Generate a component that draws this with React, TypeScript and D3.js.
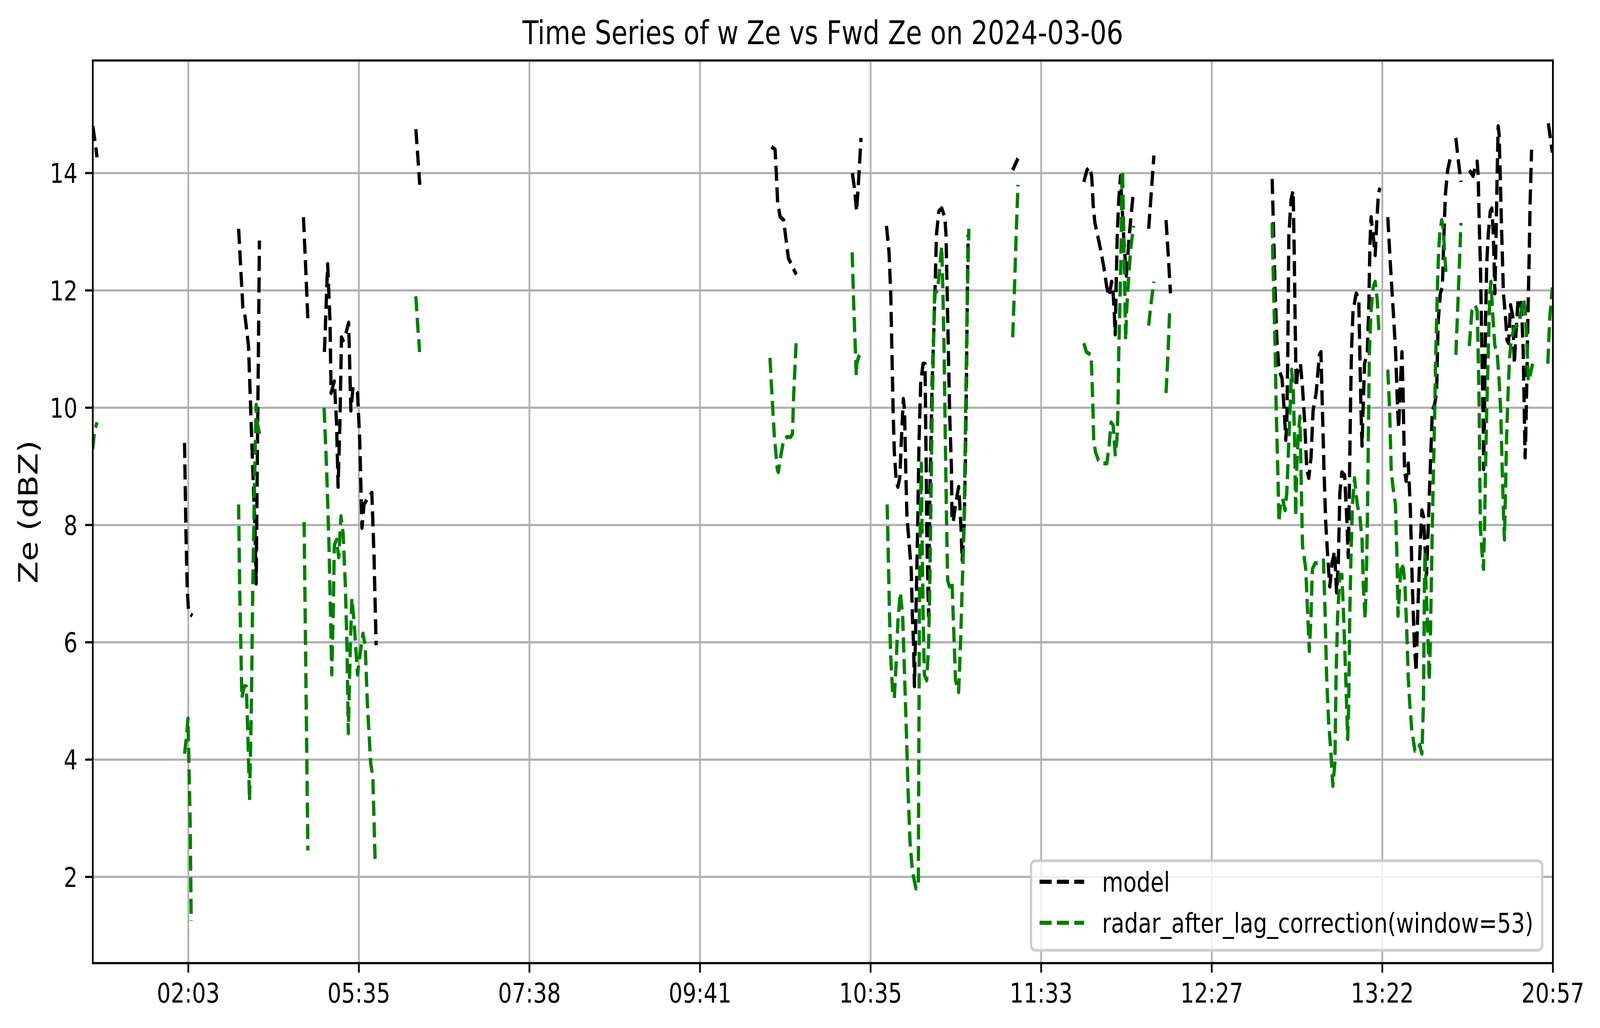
import * as d3 from "d3"

// sample index (x) and Ze in dBZ; null marks a gap in the record
type Pt = [number, number] | null

const TITLE = "Time Series of w Ze vs Fwd Ze on 2024-03-06"
const Y_LABEL = "Ze (dBZ)"
const MODEL_LABEL = "model"
const RADAR_LABEL = "radar_after_lag_correction(window=53)"

const tickIndex = [56, 156, 256, 356, 456, 556, 656, 756, 856]
const tickLabels = ["02:03", "05:35", "07:38", "09:41", "10:35", "11:33", "12:27", "13:22", "20:57"]
const yTicks = [2, 4, 6, 8, 10, 12, 14]

const model: Pt[] = [
  [0, 14.8], [1, 14.6], [2.5, 14.27], null,
  [53.8, 9.4], [54.6, 7.9], [55.4, 6.9], [56, 6.6], [56.5, 6.5], [58.4, 6.45], null,
  [85.5, 13.05], [88, 11.7], [89.3, 11.55], [91.3, 11.05], [92.6, 9.95], [93.8, 8.95], [95.1, 7.95], [95.8, 7.0],
  [96.4, 8.95], [97.1, 10.95], [97.7, 12.85], null,
  [123.5, 13.25], [124.8, 12.4], [126.1, 11.5], null,
  [135.8, 10.95], [137.7, 12.45], [139.1, 11.45], [139.7, 10.25], [141.6, 10.45], [142.9, 9.75], [143.8, 8.65],
  [144.9, 9.75], [145.8, 11.2], [146.8, 11.15], [148.7, 11.3], [150, 11.45], [151.3, 9.95], [152.6, 10.35],
  [155.2, 10.25], [156.5, 9.45], [157.8, 7.95], [159, 8.35], [161, 8.45], [163.6, 8.55], [164.9, 7.45], [166.1, 5.95], null,
  [189.4, 14.75], [190.5, 14.3], [191.7, 13.8], null,
  [397.9, 14.45], [400, 14.4], [400.8, 13.95], [401.5, 13.5], [403, 13.25], [405, 13.2], [406.5, 12.85],
  [407.8, 12.55], [409.5, 12.45], [412.4, 12.27], null,
  [445.3, 14.0], [446.5, 13.75], [447.8, 13.35], [449, 13.9], [450.4, 14.6], null,
  [465.3, 13.1], [466.8, 12.65], [467.8, 11.95], [468.5, 10.95], [469.2, 9.95], [469.9, 9.25], [471, 8.75],
  [472, 8.65], [473.1, 8.8], [474.2, 9.55], [475.2, 10.15], [475.9, 9.95], [476.6, 8.95], [477.3, 8.15],
  [478.7, 7.65], [479.8, 7.25], [480.5, 6.45], [481.2, 5.95], [481.7, 5.25], [482.2, 5.95], [482.9, 6.95],
  [483.6, 7.95], [484.4, 9.45], [485.4, 10.45], [486.8, 10.75], [487.9, 10.75], [488.2, 9.95], [488.6, 8.95],
  [488.9, 7.95], [489.6, 6.95], [490, 6.45], [490.3, 7.45], [490.7, 8.45], [491.4, 9.45], [492.1, 10.45],
  [493.2, 11.45], [493.9, 12.15], [494.6, 12.95], [496, 13.35], [497.7, 13.4], [499.5, 13.25], [500.2, 12.95],
  [500.9, 11.95], [501.6, 10.95], [502.3, 9.95], [503.4, 8.95], [503.7, 8.15], [504.4, 8.05], [505.8, 8.35],
  [507.6, 8.65], [508.3, 8.35], [509, 7.95], [509.7, 7.4], [510.8, 7.95], [511.5, 8.95], [512.2, 10.45],
  [512.7, 11.95], [513.2, 12.95], null,
  [539.3, 14.05], [540.8, 14.15], [542.4, 14.25], null,
  [581, 13.85], [582.8, 14.05], [584.4, 14.1], [585.6, 13.95], [586.5, 13.45], [587.5, 13.15], [589, 12.95],
  [590.8, 12.7], [592.7, 12.4], [594.5, 12.05], [595.8, 11.9], [597.3, 12.15], [598.2, 11.95], [598.8, 11.65],
  [599.4, 11.25], [600, 12.15], [600.6, 12.95], [601.5, 13.55], [602.5, 13.95], [603.4, 13.45], [604.3, 12.95],
  [605.2, 12.55], [605.9, 12.25], [606.5, 12.45], [607.4, 12.85], [608.6, 13.25], [609.8, 13.6], null,
  [619, 13.05], [620.5, 13.65], [622.1, 14.3], null,
  [629.2, 13.2], [630.5, 12.6], [631.8, 11.95], null,
  [691.4, 13.9], [692.3, 12.95], [693.2, 11.95], [694.2, 11.15], [695.4, 10.65], [697.2, 10.5], [698.5, 9.95],
  [699.4, 9.45], [700, 9.75], [700.6, 10.95], [701.2, 12.95], [702.5, 13.55], [703.7, 13.7], [704.3, 12.75],
  [704.9, 11.45], [705.5, 10.35], [706.5, 10.65], [708, 10.75], [709.2, 10.35], [710.5, 9.75], [711.7, 8.95],
  [712.9, 8.8], [714.2, 9.15], [715.4, 9.95], [717.2, 10.25], [719.1, 10.9], [720, 10.95], [720.9, 9.95],
  [721.8, 8.95], [722.8, 8.05], [724, 7.45], [725.2, 6.95], [726.5, 7.35], [728, 7.55], [729.2, 6.85],
  [730.2, 7.35], [731.1, 8.55], [732.3, 8.9], [733.9, 8.85], [735.1, 8.15], [736, 7.45], [736.6, 8.45],
  [737.3, 9.95], [737.9, 10.95], [738.8, 11.65], [740.7, 11.95], [742.2, 11.85], [742.8, 10.95], [743.5, 9.95],
  [744.1, 9.35], [744.7, 9.95], [745.6, 10.75], [747.2, 10.95], [748.1, 11.75], [748.7, 12.75], [749.4, 13.25],
  [750.6, 12.95], [751.8, 12.6], [752.7, 13.15], [753.7, 13.65], [754.6, 13.75], null,
  [759.2, 13.25], [760.7, 12.45], [762.6, 11.55], [763.8, 10.95], [765, 9.95], [765.6, 9.65], [766.5, 10.35],
  [767.5, 10.95], [768.1, 10.35], [769, 8.95], [769.9, 8.75], [771.2, 9.05], [772.4, 8.3], [773.6, 6.95],
  [774.8, 5.95], [775.8, 5.5], [776.7, 6.45], [777.9, 7.45], [779.2, 8.25], [780.1, 8.15], [781, 7.65],
  [781.9, 7.15], [782.9, 7.95], [784.1, 8.95], [785.3, 9.95], [786.6, 10.05], [787.8, 10.25], [788.7, 11.45],
  [790, 11.95], [791.2, 12.05], [792.1, 12.95], [793, 13.65], [794.3, 14.05], [795.8, 14.25], [796.4, 14.27], null,
  [799.1, 14.6], [800.6, 14.2], [802.1, 13.85], null,
  [807, 14.05], [809.2, 13.95], [810.4, 14.1], [811.6, 14.2], [812.2, 13.95], [812.8, 13.15], [813.5, 12.45],
  [814.1, 11.45], [814.7, 10.45], [815.3, 9.45], [815.4, 8.95], [815.9, 9.95], [816.5, 11.45], [817.2, 12.45],
  [818.1, 12.95], [819.3, 13.35], [820.2, 13.4], [821.1, 12.95], [821.8, 12.15], [822, 11.95], [822.7, 12.95],
  [823.3, 13.95], [823.9, 14.8], [824.5, 14.65], [825.1, 13.95], [826, 12.95], [827, 11.95], [828.2, 11.55],
  [829.1, 11.15], [830, 11.1], [831.2, 11.75], [832.5, 11.55], [833.4, 10.75], [834.3, 11.25], [835.6, 11.85],
  [836.8, 11.85], [837.7, 11.65], [838.6, 10.95], [839.2, 9.95], [839.7, 9.15], [840.1, 9.55], [840.7, 10.45],
  [841.3, 11.45], [842, 12.45], [842.6, 13.45], [843.5, 14.4], null,
  [853.3, 14.85], [854.5, 14.6], [855.7, 14.35],
]

const radar: Pt[] = [
  [0, 9.3], [1, 9.6], [2.5, 9.75], null,
  [53.8, 4.1], [55, 4.4], [55.8, 4.7], [56.4, 3.9], [57.1, 2.9], [57.7, 1.25], null,
  [85.5, 8.35], [86.1, 6.95], [86.8, 5.95], [87.4, 5.05], [88.7, 5.25], [90, 5.25], [90.9, 4.45], [91.9, 3.3],
  [93, 4.95], [93.8, 6.95], [94.5, 8.15], [95.1, 9.15], [95.8, 10.05], [96.4, 9.75], [97.7, 9.55], null,
  [123.9, 8.05], [125, 5.25], [126.1, 2.45], null,
  [135.6, 10], [137.1, 8.95], [138.4, 7.75], [139.4, 6.45], [140.1, 5.45], [141, 6.55], [141.6, 7.65],
  [142.9, 7.75], [144.2, 7.45], [145.5, 8.15], [146.8, 7.85], [148.1, 6.95], [149, 5.95], [149.8, 4.45],
  [151, 5.95], [151.9, 6.75], [153.2, 6.35], [155.2, 5.45], [156.5, 5.75], [158.4, 6.15], [159.7, 5.95],
  [161, 4.95], [162.9, 3.95], [164.2, 3.7], [165.5, 2.3], null,
  [189.4, 11.9], [190.5, 11.4], [191.6, 10.95], null,
  [397, 10.85], [398.3, 10.15], [399.5, 9.55], [401.3, 8.95], [401.9, 8.9], [403.2, 9.15], [405, 9.45],
  [406.8, 9.5], [409, 9.5], [410.2, 9.55], [410.8, 10.15], [412.4, 11.15], null,
  [445.2, 12.65], [446.1, 11.75], [447, 11.05], [447.6, 10.55], [447.9, 10.75], [448.8, 10.85], [450.1, 10.95], null,
  [465.7, 8.35], [466.4, 7.45], [467.1, 6.45], [467.8, 5.75], [468.9, 5.15], [469.9, 5.05], [471, 5.65],
  [472, 6.35], [473.4, 6.85], [474.8, 6.45], [475.9, 5.45], [477, 4.45], [478, 3.45], [479.1, 2.6],
  [480.5, 2.1], [482.6, 1.8], [484, 1.9], [484.1, 2.9], [484.4, 4.95], [484.7, 6.95], [485.3, 8.45],
  [485.8, 9.05], [486.1, 7.95], [486.8, 6.45], [487.5, 5.45], [488.9, 5.35], [490, 5.95], [490.7, 6.95],
  [491.4, 8.45], [492.1, 9.95], [492.8, 10.95], [493.5, 11.95], [495.3, 12], [496.7, 12.45], [497.7, 12.75],
  [498.4, 11.95], [499.1, 10.95], [499.8, 9.45], [500.6, 7.95], [501.2, 7.05], [502.3, 6.95], [503.7, 7.05],
  [504.8, 6.15], [505.8, 5.35], [507.6, 5.15], [508.7, 5.95], [509.7, 6.95], [510.8, 7.95], [511.5, 9.45],
  [512.2, 10.95], [512.9, 12.15], [513.6, 13.05], null,
  [539.3, 11.2], [540.3, 12.0], [541.4, 13.0], [542.4, 13.8], null,
  [581, 11.1], [582.5, 10.95], [585.3, 10.9], [586.2, 10.15], [586.8, 9.45], [587.8, 9.25], [589.6, 9.1],
  [592.1, 9.05], [594.5, 9.05], [595.8, 9.35], [597, 9.75], [598.2, 9.7], [599.4, 9.2], [600.4, 9.45],
  [601, 9.95], [601.5, 10.95], [602.3, 11.95], [603, 12.95], [603.4, 13.95], [603.7, 14.05], [604.3, 13.15],
  [604.9, 12.15], [605.5, 11.15], [606.1, 11.65], [607.1, 12.15], [608.6, 12.75], [610.2, 13.1], null,
  [619, 11.4], [620.5, 11.8], [622.1, 12.15], null,
  [629.2, 10.25], [630.4, 10.95], [631.3, 11.65], [632.3, 11.65], null,
  [691.4, 13.15], [691.9, 12.45], [692.5, 11.75], [693.2, 10.95], [693.8, 9.95], [694.7, 8.95], [695.4, 8.05],
  [696.3, 8.35], [697.5, 8.45], [699, 8.25], [700, 8.55], [701.2, 9.45], [702.8, 10.65], [703.7, 10.35],
  [704.6, 9.45], [705.2, 8.15], [705.8, 8.95], [706.7, 9.55], [707.7, 9.85], [708.3, 8.95], [709.2, 7.65],
  [711.1, 7.25], [712.3, 6.45], [713.2, 5.85], [714.2, 6.45], [715, 7.25], [716.6, 7.35], [719.1, 7.35],
  [721.5, 7.4], [722.5, 6.45], [723.3, 5.45], [724.5, 4.65], [725.8, 4.15], [727, 3.55], [728.2, 3.95],
  [728.9, 5.45], [729.8, 6.45], [731.1, 7.15], [732.3, 7.15], [733.3, 6.45], [734.5, 5.45], [735.7, 4.35],
  [736.3, 4.95], [736.9, 6.45], [737.6, 7.45], [738.5, 8.35], [739.7, 8.8], [741.3, 8.35], [742.8, 8.15],
  [744.1, 7.75], [744.9, 6.95], [745.9, 6.4], [746.5, 6.95], [747.2, 7.95], [747.8, 9.45], [748.4, 10.95],
  [749.4, 11.65], [750.6, 12.05], [751.8, 12.15], [753, 11.85], [754, 11.3], [754.6, 11.25], null,
  [759.2, 10.65], [760.3, 9.95], [761.2, 8.95], [762.2, 8.65], [763.7, 8.35], [764.6, 7.45], [765.2, 6.45],
  [766.2, 6.95], [767.1, 7.35], [768.4, 7.25], [769.3, 6.95], [770.2, 6.3], [771.2, 5.4], [772.2, 4.9],
  [773.3, 4.5], [775.1, 4.15], [776.7, 4.15], [777.9, 4.25], [779.2, 4.1], [780.1, 4.95], [780.4, 5.95],
  [780.7, 6.95], [781, 7.55], [781.6, 6.95], [782.3, 6.45], [782.9, 5.95], [783.5, 5.35], [784.1, 5.95],
  [784.7, 6.95], [785.3, 7.95], [786, 8.95], [786.6, 9.75], [787.2, 10.75], [787.8, 11.45], [788.4, 12.15],
  [789, 12.65], [789.6, 12.95], [790.8, 13.2], [791.7, 13.05], [792.3, 12.75], [793.3, 12.3], [794.3, 12.25],
  [795.2, 12.25], null,
  [799.1, 10.9], [800.6, 12.0], [802.1, 13.15], null,
  [807, 11.05], [808.5, 11.65], [810.4, 11.75], [811.6, 11.65], [812.2, 10.95], [812.8, 9.95], [813.1, 8.95],
  [813.5, 7.95], [814.4, 7.55], [815.3, 7.25], [815.9, 7.95], [816.5, 8.95], [817.2, 9.95], [818.1, 10.95],
  [819, 11.95], [819.7, 12.15], [820.8, 11.55], [822, 11.05], [823.3, 10.95], [824.5, 10.45], [825.4, 9.95],
  [826.3, 8.95], [827.3, 7.95], [827.6, 7.75], [828.2, 8.55], [828.8, 9.45], [829.7, 10.25], [830.6, 10.85],
  [831.6, 11.15], [833.1, 11.35], [834.9, 11.4], [836.2, 11.45], [837.4, 11.65], [838.9, 11.85], [839.8, 11.65],
  [840.7, 11.15], [841.6, 10.45], [842.6, 10.55], [844.1, 10.75], null,
  [853, 10.75], [854.2, 11.55], [855.7, 12.05],
]

// drawing units follow the 5096x2631 reference; ~500 dpi so 1pt ≈ 6.94 units
const PT = 500 / 72
const W = 5096
const H = 2631
const plot = { left: 295.5, right: 4946, top: 154.8, bottom: 2465 }

export default function App() {
  const x = d3.scaleLinear().domain([0, 856]).range([plot.left, plot.right])
  const y = d3.scaleLinear().domain([0.53, 15.92]).range([plot.bottom, plot.top])

  const line = d3
    .line<Pt>()
    .defined((d) => d !== null)
    .x((d) => x((d as [number, number])[0]))
    .y((d) => y((d as [number, number])[1]))

  const lw = 1.5 * PT
  const dash = `${3.7 * lw} ${1.6 * lw}`
  const font = "DejaVu Sans, sans-serif"
  const tickFs = 10 * PT
  const tickLen = 3.5 * PT
  const tickPad = 3.5 * PT

  // legend box, lower right of the axes
  const leg = { x: 3284, y: 2203, w: 1628, h: 229 }
  const legendItems = [
    { label: MODEL_LABEL, color: "#000000" },
    { label: RADAR_LABEL, color: "#008000" },
  ]

  return (
    <svg
      viewBox={`0 0 ${W} ${H}`}
      preserveAspectRatio="none"
      style={{ position: "fixed", left: 0, top: 0, width: "100vw", height: "100vh", display: "block", background: "#fff" }}
      fontFamily={font}
    >
      <rect x={0} y={0} width={W} height={H} fill="#fff" />
      <defs>
        <clipPath id="plot-clip">
          <rect x={plot.left} y={plot.top} width={plot.right - plot.left} height={plot.bottom - plot.top} />
        </clipPath>
      </defs>

      {/* grid */}
      <g stroke="#b0b0b0" strokeWidth={0.8 * PT}>
        {tickIndex.map((t) => (
          <line key={`gx${t}`} x1={x(t)} x2={x(t)} y1={plot.top} y2={plot.bottom} />
        ))}
        {yTicks.map((t) => (
          <line key={`gy${t}`} x1={plot.left} x2={plot.right} y1={y(t)} y2={y(t)} />
        ))}
      </g>

      {/* series */}
      <g clipPath="url(#plot-clip)" fill="none" strokeWidth={lw} strokeDasharray={dash} strokeLinejoin="round">
        <path d={line(model) ?? ""} stroke="#000000" />
        <path d={line(radar) ?? ""} stroke="#008000" />
      </g>

      {/* legend */}
      <g>
        <rect
          x={leg.x}
          y={leg.y}
          width={leg.w}
          height={leg.h}
          rx={14}
          fill="#ffffff"
          fillOpacity={0.8}
          stroke="#cccccc"
          strokeWidth={1.0 * PT}
        />
        {legendItems.map((it, i) => {
          const cy = 2256.7 + i * 105
          return (
            <g key={it.label}>
              <line
                x1={3311}
                x2={3453}
                y1={cy}
                y2={cy}
                stroke={it.color}
                strokeWidth={lw}
                strokeDasharray={dash}
              />
              <text x={3510} y={cy + 0.3645 * tickFs} fontSize={tickFs} fill="#000">
                {it.label}
              </text>
            </g>
          )
        })}
      </g>

      {/* axes frame */}
      <rect
        x={plot.left}
        y={plot.top}
        width={plot.right - plot.left}
        height={plot.bottom - plot.top}
        fill="none"
        stroke="#000"
        strokeWidth={0.8 * PT}
      />

      {/* x ticks */}
      <g>
        {tickIndex.map((t, i) => (
          <g key={`xt${t}`}>
            <line x1={x(t)} x2={x(t)} y1={plot.bottom} y2={plot.bottom + tickLen} stroke="#000" strokeWidth={0.8 * PT} />
            <text
              x={x(t)}
              y={plot.bottom + tickLen + tickPad + 0.76 * tickFs}
              fontSize={tickFs}
              textAnchor="middle"
              fill="#000"
            >
              {tickLabels[i]}
            </text>
          </g>
        ))}
      </g>

      {/* y ticks */}
      <g>
        {yTicks.map((t) => (
          <g key={`yt${t}`}>
            <line x1={plot.left - tickLen} x2={plot.left} y1={y(t)} y2={y(t)} stroke="#000" strokeWidth={0.8 * PT} />
            <text
              x={plot.left - tickLen - tickPad}
              y={y(t) + 0.3645 * tickFs}
              fontSize={tickFs}
              textAnchor="end"
              fill="#000"
            >
              {t}
            </text>
          </g>
        ))}
      </g>

      {/* labels */}
      <text
        x={(plot.left + plot.right) / 2}
        y={plot.top - 6 * PT}
        fontSize={12 * PT}
        textAnchor="middle"
        fill="#000"
      >
        {TITLE}
      </text>
      <text
        transform={`translate(${91},${(plot.top + plot.bottom) / 2}) rotate(-90)`}
        fontSize={12 * PT}
        textAnchor="middle"
        dominantBaseline="central"
        fill="#000"
      >
        {Y_LABEL}
      </text>
    </svg>
  )
}
